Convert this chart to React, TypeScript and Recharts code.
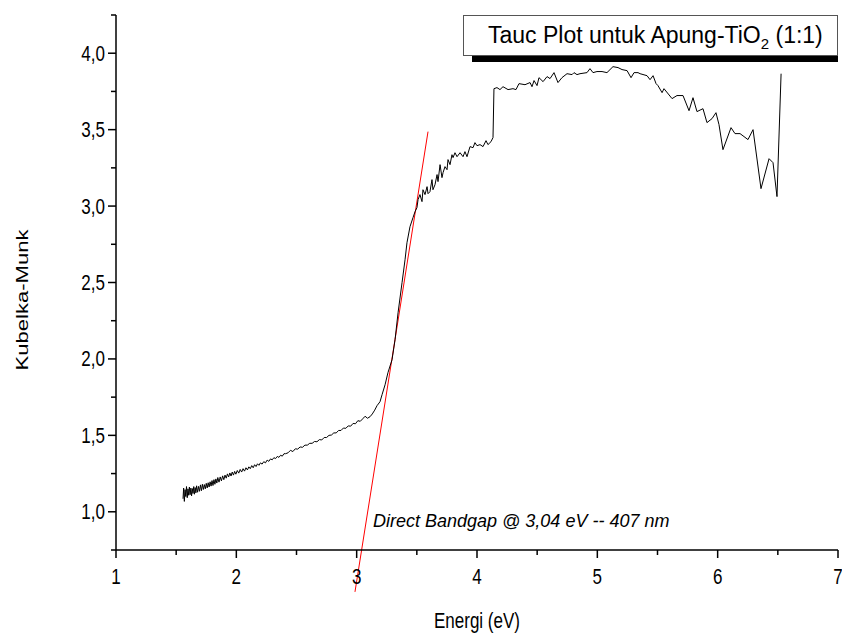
import React from 'react';
import { LineChart, Line, XAxis, YAxis, ReferenceLine, Customized } from 'recharts';

// Energy (eV) of each measured point
const energi: number[] = [
  1.557, 1.562, 1.568, 1.574, 1.580, 1.586, 1.592, 1.598, 1.604, 1.610,
  1.616, 1.622, 1.628, 1.634, 1.640, 1.646, 1.652, 1.658, 1.664, 1.670,
  1.678, 1.686, 1.694, 1.702, 1.710, 1.718, 1.726, 1.734, 1.742, 1.750,
  1.758, 1.766, 1.774, 1.782, 1.790, 1.798, 1.806, 1.814, 1.822, 1.830,
  1.838, 1.846, 1.856, 1.866, 1.876, 1.886, 1.896, 1.906, 1.916, 1.926,
  1.936, 1.946, 1.956, 1.966, 1.976, 1.986, 1.996, 2.008, 2.020, 2.032,
  2.044, 2.056, 2.068, 2.080, 2.092, 2.104, 2.116, 2.128, 2.140, 2.152,
  2.164, 2.176, 2.188, 2.200, 2.214, 2.228, 2.242, 2.256, 2.270, 2.284,
  2.298, 2.312, 2.326, 2.340, 2.354, 2.368, 2.382, 2.396, 2.410, 2.430,
  2.450, 2.470, 2.490, 2.510, 2.530, 2.550, 2.570, 2.590, 2.610, 2.630,
  2.650, 2.670, 2.690, 2.710, 2.730, 2.750, 2.770, 2.790, 2.810, 2.830,
  2.850, 2.870, 2.890, 2.910, 2.930, 2.950, 2.970, 2.990, 3.010, 3.030,
  3.050, 3.070, 3.090, 3.111, 3.130, 3.150, 3.169, 3.194, 3.211, 3.236,
  3.260, 3.294, 3.319, 3.344, 3.377, 3.402, 3.418, 3.443, 3.468, 3.485,
  3.501, 3.510, 3.526, 3.543, 3.551, 3.568, 3.585, 3.593, 3.609, 3.626,
  3.634, 3.651, 3.668, 3.676, 3.693, 3.709, 3.718, 3.734, 3.751, 3.759,
  3.776, 3.792, 3.801, 3.817, 3.834, 3.859, 3.884, 3.900, 3.917, 3.942,
  3.967, 3.983, 4.000, 4.025, 4.050, 4.075, 4.091, 4.116, 4.133, 4.141,
  4.166, 4.191, 4.216, 4.258, 4.299, 4.324, 4.349, 4.399, 4.441, 4.457,
  4.474, 4.499, 4.515, 4.549, 4.582, 4.607, 4.640, 4.673, 4.706, 4.748,
  4.790, 4.806, 4.831, 4.856, 4.914, 4.939, 4.964, 4.997, 5.039, 5.080,
  5.130, 5.172, 5.205, 5.247, 5.280, 5.305, 5.338, 5.355, 5.413, 5.438,
  5.463, 5.488, 5.504, 5.538, 5.554, 5.621, 5.662, 5.712, 5.762, 5.795,
  5.828, 5.878, 5.911, 5.953, 5.986, 6.011, 6.044, 6.111, 6.144, 6.186,
  6.252, 6.294, 6.360, 6.427, 6.460, 6.493, 6.527,
];

// Kubelka-Munk value of each measured point
const kubelkaMunk: number[] = [
  1.085, 1.155, 1.068, 1.145, 1.100, 1.165, 1.092, 1.150, 1.108, 1.162,
  1.112, 1.155, 1.104, 1.152, 1.120, 1.165, 1.115, 1.158, 1.124, 1.170,
  1.128, 1.166, 1.134, 1.176, 1.138, 1.180, 1.146, 1.178, 1.150, 1.186,
  1.156, 1.190, 1.162, 1.196, 1.168, 1.204, 1.172, 1.210, 1.180, 1.215,
  1.188, 1.224, 1.194, 1.228, 1.202, 1.235, 1.210, 1.240, 1.220, 1.248,
  1.228, 1.254, 1.234, 1.260, 1.240, 1.264, 1.246, 1.270, 1.253, 1.277,
  1.260, 1.282, 1.266, 1.288, 1.274, 1.294, 1.282, 1.302, 1.288, 1.308,
  1.296, 1.314, 1.304, 1.320, 1.312, 1.328, 1.320, 1.338, 1.330, 1.346,
  1.340, 1.354, 1.348, 1.362, 1.356, 1.370, 1.364, 1.380, 1.380, 1.386,
  1.402, 1.394, 1.412, 1.410, 1.424, 1.422, 1.436, 1.436, 1.448, 1.448,
  1.460, 1.458, 1.472, 1.470, 1.486, 1.486, 1.500, 1.502, 1.516, 1.516,
  1.532, 1.532, 1.548, 1.546, 1.562, 1.560, 1.578, 1.576, 1.596, 1.592,
  1.608, 1.625, 1.612, 1.622, 1.640, 1.665, 1.694, 1.720, 1.766, 1.831,
  1.910, 1.995, 2.126, 2.302, 2.499, 2.649, 2.760, 2.865, 2.924, 2.963,
  2.990, 3.042, 3.075, 3.029, 3.107, 3.075, 3.127, 3.081, 3.094, 3.173,
  3.107, 3.140, 3.206, 3.160, 3.271, 3.186, 3.219, 3.258, 3.238, 3.304,
  3.271, 3.336, 3.317, 3.349, 3.323, 3.349, 3.323, 3.356, 3.323, 3.389,
  3.382, 3.415, 3.395, 3.402, 3.389, 3.428, 3.402, 3.421, 3.448, 3.768,
  3.775, 3.762, 3.781, 3.762, 3.768, 3.762, 3.801, 3.794, 3.808, 3.781,
  3.821, 3.788, 3.840, 3.814, 3.847, 3.834, 3.873, 3.808, 3.840, 3.866,
  3.860, 3.873, 3.860, 3.866, 3.873, 3.899, 3.873, 3.880, 3.880, 3.873,
  3.912, 3.906, 3.893, 3.886, 3.840, 3.873, 3.873, 3.866, 3.853, 3.827,
  3.853, 3.801, 3.788, 3.742, 3.768, 3.703, 3.723, 3.723, 3.624, 3.709,
  3.618, 3.637, 3.546, 3.572, 3.611, 3.533, 3.369, 3.513, 3.474, 3.474,
  3.435, 3.500, 3.114, 3.310, 3.284, 3.062, 3.866,
];

// Linear fit (Tauc extrapolation) end points
const fitEnergi: number[] = [2.986, 3.593];
const fitKubelka: number[] = [0.476, 3.487];

const xTicks: number[] = [1, 1.5, 2, 2.5, 3, 3.5, 4, 4.5, 5, 5.5, 6, 6.5, 7];
const yTicks: number[] = [0.75, 1, 1.25, 1.5, 1.75, 2, 2.25, 2.5, 2.75, 3, 3.25, 3.5, 3.75, 4, 4.25];

const legendTitle = 'Tauc Plot untuk Apung-TiO';
const legendSub = '2';
const legendTail = ' (1:1)';
const annotation = 'Direct Bandgap @ 3,04 eV -- 407 nm';
const xLabel = 'Energi (eV)';
const yLabel = 'Kubelka-Munk';

const data = energi.map((e, i) => ({ e, k: kubelkaMunk[i] }));
const FONT = '"Liberation Sans", Arial, sans-serif';

const XTick = (props: any) => {
  const { x, y, payload } = props;
  const v = payload.value as number;
  const major = Number.isInteger(v);
  return (
    <g>
      <line x1={x} x2={x} y1={y} y2={y + (major ? 8 : 5)} stroke="#000" strokeWidth={1.5} />
      {major && (
        <text
          transform={`translate(${x},${y + 34}) scale(1,1.25)`}
          textAnchor="middle"
          fontSize={17}
          fontFamily={FONT}
          fill="#000"
        >
          {String(v)}
        </text>
      )}
    </g>
  );
};

const YTick = (props: any) => {
  const { x, y, payload } = props;
  const v = payload.value as number;
  const major = Math.abs(v * 2 - Math.round(v * 2)) < 1e-6;
  return (
    <g>
      <line x1={x - (major ? 8 : 5)} x2={x} y1={y} y2={y} stroke="#000" strokeWidth={1.5} />
      {major && (
        <text
          transform={`translate(${x - 11},${y + 7.5}) scale(1,1.25)`}
          textAnchor="end"
          fontSize={17}
          fontFamily={FONT}
          fill="#000"
        >
          {v.toFixed(1).replace('.', ',')}
        </text>
      )}
    </g>
  );
};

const Decorations = () => (
  <g>
    <rect x={472} y={55} width={366} height={7} fill="#000" />
    <rect x={463.5} y={15.5} width={374} height={40} fill="#fff" stroke="#555" strokeWidth={1} />
    <text x={488} y={43} fontSize={23} fontFamily={FONT} fill="#000">
      {legendTitle}
      <tspan fontSize={15} dy={6}>{legendSub}</tspan>
      <tspan dy={-6}>{legendTail}</tspan>
    </text>
    <text x={373} y={527} fontSize={18} fontStyle="italic" fontFamily={FONT} fill="#000">
      {annotation}
    </text>
    <text
      transform="translate(477,628) scale(1,1.25)"
      textAnchor="middle"
      fontSize={17}
      fontFamily={FONT}
      fill="#000"
    >
      {xLabel}
    </text>
    <text
      transform="translate(28,300) rotate(-90) scale(1.3,1)"
      textAnchor="middle"
      fontSize={17}
      fontFamily={FONT}
      fill="#000"
    >
      {yLabel}
    </text>
  </g>
);

export default function App() {
  return (
    <div style={{ position: 'absolute', left: 0, top: 0, background: '#fff' }}>
      <LineChart
        width={842}
        height={635}
        data={data}
        margin={{ top: 15, right: 4, bottom: 0, left: 0 }}
      >
        <XAxis
          dataKey="e"
          type="number"
          domain={[1, 7]}
          ticks={xTicks}
          interval={0}
          height={85}
          tickSize={0}
          tickMargin={0}
          tickLine={false}
          tick={<XTick />}
          axisLine={{ stroke: '#000', strokeWidth: 1.5 }}
          allowDataOverflow
        />
        <YAxis
          type="number"
          domain={[0.75, 4.25]}
          ticks={yTicks}
          interval={0}
          width={116}
          tickSize={0}
          tickMargin={0}
          tickLine={false}
          tick={<YTick />}
          axisLine={{ stroke: '#000', strokeWidth: 1.5 }}
          allowDataOverflow
        />
        <ReferenceLine
          segment={[
            { x: fitEnergi[0], y: fitKubelka[0] },
            { x: fitEnergi[1], y: fitKubelka[1] },
          ]}
          stroke="#ff0000"
          strokeWidth={1}
          ifOverflow="visible"
        />
        <Line
          dataKey="k"
          type="linear"
          stroke="#000"
          strokeWidth={1}
          dot={false}
          isAnimationActive={false}
        />
        <Customized component={<Decorations />} />
      </LineChart>
    </div>
  );
}
